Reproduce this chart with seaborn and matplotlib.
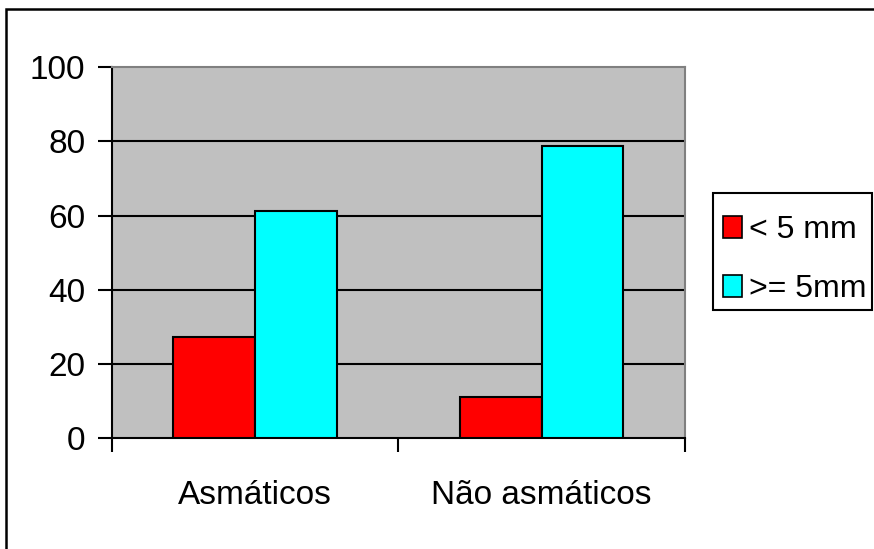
import matplotlib
matplotlib.use("Agg")
import matplotlib.pyplot as plt
from matplotlib.patches import Rectangle
from matplotlib.ticker import FixedLocator, NullFormatter
import seaborn as sns
import pandas as pd

# Data
grupos = ["Asmáticos", "Não asmáticos"]
series = ["< 5 mm", ">= 5mm"]
menor_5mm = [27.2, 11.1]
maior_igual_5mm = [61.3, 78.6]
cores = ["#ff0000", "#00ffff"]
yticks = [0, 20, 40, 60, 80, 100]

df = pd.DataFrame({
    "grupo": grupos * 2,
    "serie": [series[0]] * 2 + [series[1]] * 2,
    "valor": menor_5mm + maior_igual_5mm,
})

sns.set_theme(style="white")
plt.rcParams["font.family"] = ["Liberation Sans", "DejaVu Sans"]
plt.rcParams["text.color"] = "black"
plt.rcParams["xtick.labelcolor"] = "black"
plt.rcParams["ytick.labelcolor"] = "black"

W, H = 874, 549
fig = plt.figure(figsize=(W / 100, H / 100), dpi=100)
fig.patch.set_facecolor("white")

x0, x1 = 111.7, 685.0
y0, y1 = 438.3, 67.0
ax = fig.add_axes([x0 / W, 1 - y0 / H, (x1 - x0) / W, (y0 - y1) / H])
ax.set_facecolor("#c0c0c0")

sns.barplot(data=df, x="grupo", y="valor", hue="serie", hue_order=series,
            order=grupos, palette=cores, width=0.57, saturation=1,
            edgecolor="black", linewidth=1.5, ax=ax, zorder=3)

ax.set_xlim(-0.5, 1.5)
ax.set_ylim(0, 100)
ax.set_xlabel("")
ax.set_ylabel("")

# y axis
ax.set_yticks(yticks)
ax.set_yticklabels([str(v) for v in yticks])
ax.tick_params(axis="y", which="major", direction="out", length=10, width=1.5,
               color="black", labelcolor="black", labelsize=24, pad=9, left=True)
ax.grid(axis="y", color="black", linewidth=1.5)
ax.set_axisbelow(True)
ax.yaxis.get_gridlines()[-1].set_visible(False)
ax.yaxis.get_gridlines()[0].set_visible(False)

# x axis: labels centred on categories, ticks on category boundaries
ax.set_xticks(range(len(grupos)))
ax.set_xticklabels(grupos)
ax.tick_params(axis="x", which="major", length=0, labelsize=24, pad=30,
               labelcolor="black")
ax.xaxis.set_minor_locator(FixedLocator([-0.5, 0.5, 1.5]))
ax.xaxis.set_minor_formatter(NullFormatter())
ax.tick_params(axis="x", which="minor", direction="out", length=10, width=1.5,
               color="black", bottom=True)

for side in ["left", "bottom"]:
    ax.spines[side].set_color("black")
    ax.spines[side].set_linewidth(1.5)
for side in ["top", "right"]:
    ax.spines[side].set_color("#808080")
    ax.spines[side].set_linewidth(1.5)

# Legend entries, with a plain box drawn around them
handles, labels = ax.get_legend_handles_labels()
leg = ax.legend(handles, labels, loc="upper left",
                bbox_to_anchor=(723 / W, 1 - 215 / H),
                bbox_transform=fig.transFigure, fontsize=23,
                frameon=False,
                handlelength=0.6, handleheight=0.68, handletextpad=0.2,
                labelspacing=0.92, borderpad=0, borderaxespad=0)
for h in leg.legend_handles:
    h.set_edgecolor("black")
    h.set_linewidth(1.2)
for t in leg.get_texts():
    t.set_color("black")
fig.add_artist(Rectangle((712.5 / W, 1 - 310 / H), (872 - 712.5) / W,
                         (310 - 193) / H, transform=fig.transFigure,
                         facecolor="white", edgecolor="black", linewidth=1.5,
                         zorder=0))

# Outer chart border
fig.add_artist(Rectangle((5.5 / W, -0.1), 2, 1 - 8.5 / H + 0.1,
                         transform=fig.transFigure, fill=False,
                         edgecolor="black", linewidth=1.8, clip_on=False))

fig.savefig("out.png", dpi=100, facecolor="white")
